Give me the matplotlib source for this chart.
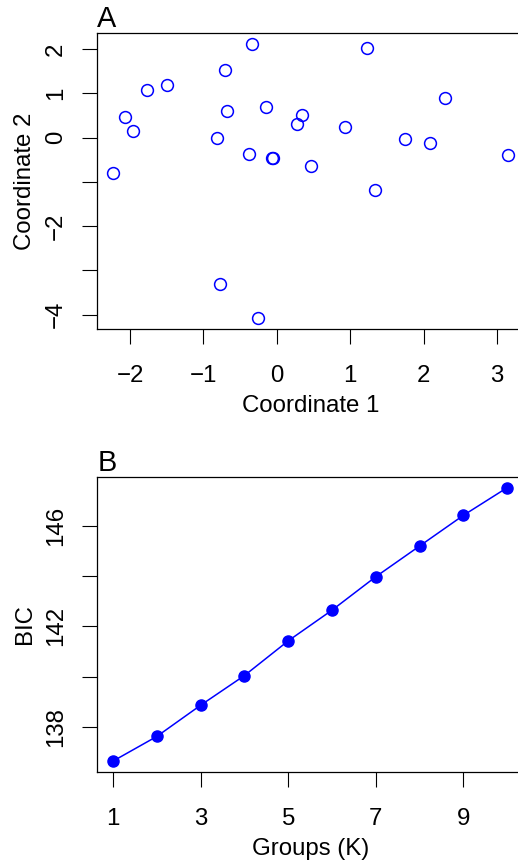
import numpy as np
import matplotlib.pyplot as plt

# panel A: coordinates of the points
coord1 = [-2.23, -2.07, -1.96, -1.77, -1.50, -0.81, -0.70, -0.68, -0.77, -0.38,
          -0.34, -0.26, -0.15, -0.06, -0.05, 0.27, 0.34, 0.46, 0.93, 1.23,
          1.34, 1.74, 2.09, 2.29, 3.15]
coord2 = [-0.79, 0.47, 0.15, 1.08, 1.18, -0.01, 1.54, 0.60, -3.32, -0.37,
          2.11, -4.08, 0.69, -0.45, -0.47, 0.31, 0.51, -0.63, 0.25, 2.02,
          -1.18, -0.04, -0.11, 0.90, -0.39]
a_xticks = [-2, -1, 0, 1, 2, 3]
a_xlabels = ["\u22122", "\u22121", "0", "1", "2", "3"]
a_yticks = [-4, -3, -2, -1, 0, 1, 2]
a_ylabels = ["\u22124", "", "\u22122", "", "0", "1", "2"]

# panel B: BIC per number of groups
groups = [1, 2, 3, 4, 5, 6, 7, 8, 9, 10]
bic = [136.64, 137.62, 138.86, 140.04, 141.42, 142.64, 143.97, 145.19, 146.41, 147.51]
b_xticks = [1, 3, 5, 7, 9]
b_yticks = [138, 140, 142, 144, 146]
b_ylabels = ["138", "", "142", "", "146"]

plt.rcParams['font.family'] = ['Liberation Sans', 'DejaVu Sans']
plt.rcParams['font.size'] = 17.3

W, H = 518, 861
fig = plt.figure(figsize=(W / 100, H / 100), dpi=100)


def px_axes(l, t, r, b):
    return fig.add_axes([l / W, 1 - b / H, (r - l) / W, (b - t) / H])


def rlim(v):
    # R style 4% padding on each side
    lo, hi = min(v), max(v)
    d = 0.04 * (hi - lo)
    return lo - d, hi + d


def style(ax):
    for s in ax.spines.values():
        s.set_linewidth(0.9)
    ax.tick_params(length=10.8, width=0.8, direction='out')
    ax.tick_params(axis='x', pad=15)
    ax.tick_params(axis='y', pad=11.2)
    for lab in ax.get_yticklabels():
        lab.set_rotation(90)
        lab.set_va('center')


blue = '#0000FF'

axA = px_axes(97.3, 33.4, 524, 329)
axA.plot(coord1, coord2, 'o', mfc='none', mec=blue, ms=8.5, mew=1.1)
axA.set_xlim(rlim(coord1))
axA.set_ylim(rlim(coord2))
axA.set_xticks(a_xticks, a_xlabels)
axA.set_yticks(a_yticks, a_ylabels)
style(axA)
axA.set_xlabel('Coordinate 1', labelpad=5.6)
axA.set_ylabel('Coordinate 2', labelpad=6)
axA.set_title('A', loc='left', pad=4)

axB = px_axes(97.3, 476.7, 523, 772)
axB.plot(groups, bic, '-o', color=blue, ms=8, lw=1.1)
axB.set_xlim(rlim(groups))
axB.set_ylim(rlim(bic))
axB.set_xticks(b_xticks)
axB.set_yticks(b_yticks, b_ylabels)
style(axB)
axB.set_xlabel('Groups (K)', labelpad=5.6)
axB.set_ylabel('BIC', labelpad=6)
axB.set_title('B', loc='left', pad=4)

fig.savefig('out.png', dpi=100)
plt.close()
